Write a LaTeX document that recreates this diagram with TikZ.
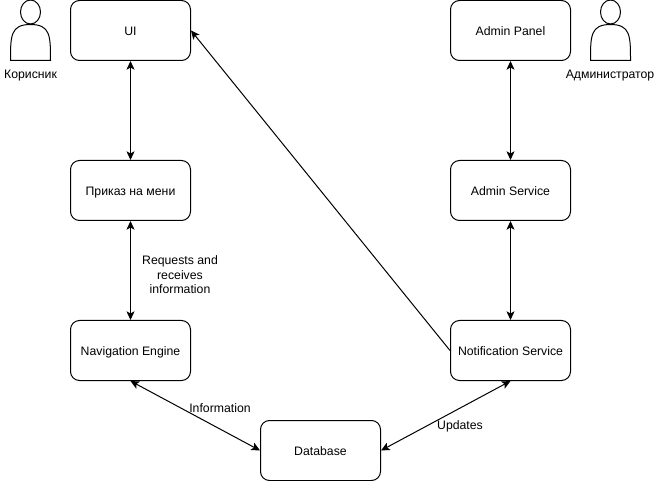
\documentclass[tikz,border=0pt]{standalone}
\usepackage{fontspec}
\setmainfont{Liberation Sans}
\usetikzlibrary{arrows.meta}
\tikzset{
  x=0.75pt,y=-0.75pt,
  every node/.style={font=\fontsize{9.2}{10.8}\selectfont,text=black},
  boxnode/.style={draw=black,line width=0.75pt,rounded corners=6.75pt,minimum width=90pt,minimum height=45pt,inner sep=0pt,align=center,fill=white,text height=8.5pt,text depth=1pt},
  lbl/.style={inner sep=0pt,align=center},
  link/.style={draw=black,line width=0.75pt,{Stealth[length=6.5pt,width=6pt,inset=1.6pt]}-{Stealth[length=6.5pt,width=6pt,inset=1.6pt]}},
  oneway/.style={draw=black,line width=0.75pt,-{Stealth[length=6.5pt,width=6pt,inset=1.6pt]}},
  actorline/.style={draw=black,line width=0.75pt},
}
\begin{document}
\begin{tikzpicture}
\useasboundingbox (0,0) rectangle (654,481);
\node[boxnode] (ui) at (130.5,30.5) {UI};
\node[boxnode] (menu) at (130.5,190.5) {Приказ на мени};
\node[boxnode] (nav) at (130.5,350.5) {Navigation Engine};
\node[boxnode] (db) at (320.5,450.5) {Database};
\node[boxnode] (panel) at (510.5,30.5) {Admin Panel};
\node[boxnode] (adm) at (510.5,190.5) {Admin Service};
\node[boxnode] (notif) at (510.5,350.5) {Notification Service};
\draw[link] (ui.south) -- (menu.north);
\draw[link] (menu.south) -- (nav.north);
\draw[link] (nav.south) -- (db.west);
\draw[link] (panel.south) -- (adm.north);
\draw[link] (adm.south) -- (notif.north);
\draw[link] (notif.south) -- (db.east);
\draw[oneway] (notif.west) -- (ui.east);
\node[lbl] (l1) at (180,275) {Requests and\\receives\\information};
\node[lbl] (l2) at (220,408) {Information};
\node[lbl] (l3) at (460,426) {Updates};
\node[lbl] (l4) at (30.5,76) {Корисник};
\node[lbl] (l5) at (610,76) {Администратор};
% user figures
\foreach \cx in {30.5,610.5}{
  \draw[actorline] (\cx,12) ellipse [x radius=10,y radius=12];
  \draw[actorline] (\cx-20,60.5) .. controls (\cx-20,36) and (\cx-20,24.5) .. (\cx,24.5) .. controls (\cx+20,24.5) and (\cx+20,36) .. (\cx+20,60.5) -- cycle;
}
\end{tikzpicture}
\end{document}
